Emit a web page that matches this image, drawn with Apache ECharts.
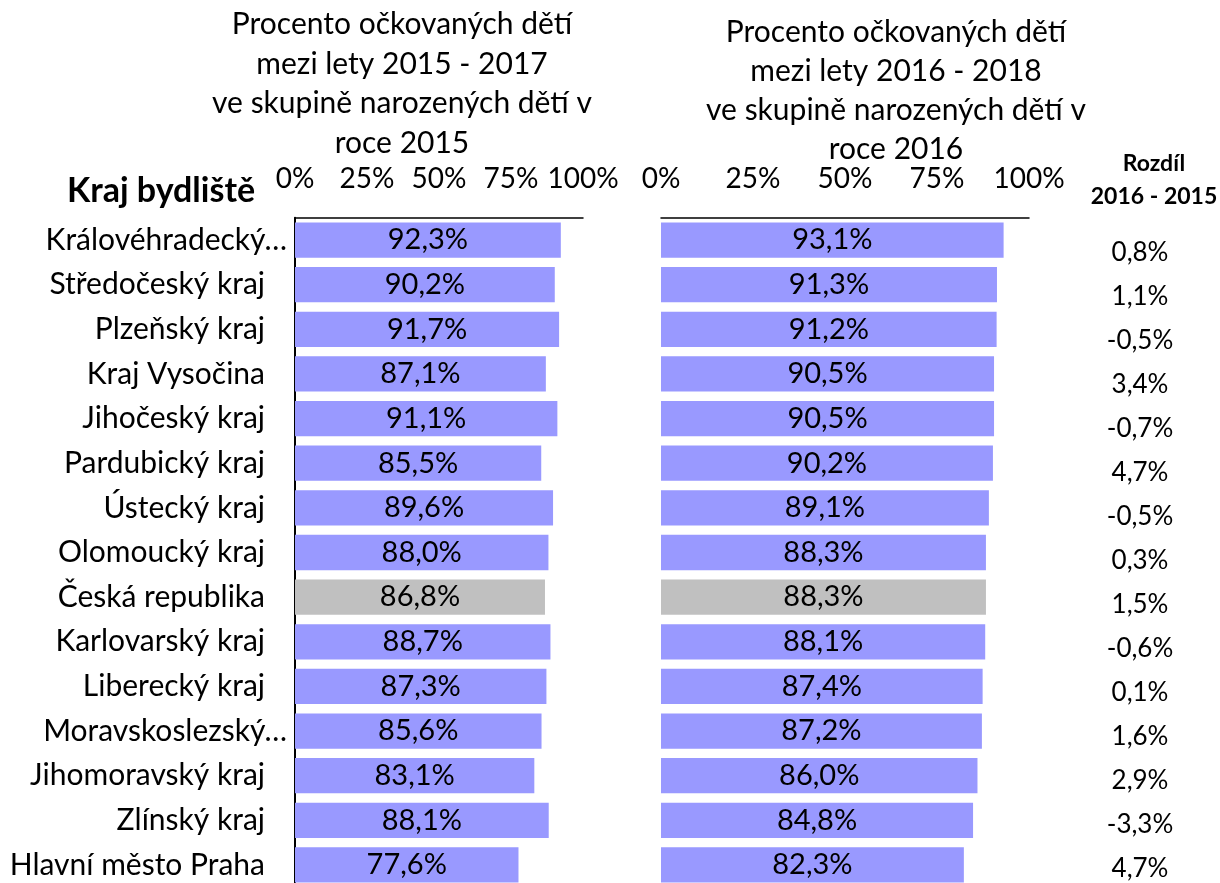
<!DOCTYPE html>
<html>
<head>
<meta charset="utf-8">
<script src="https://cdn.jsdelivr.net/npm/echarts@6/dist/echarts.min.js"></script>
<style>
html, body { margin: 0; padding: 0; background: #fff; }
#chart { width: 1220px; height: 883px; }
</style>
</head>
<body>
<div id="chart"></div>
<script>
// kraje v poradi jako v tabulce
const regions = [
	'Královéhradecký…', 'Středočeský kraj', 'Plzeňský kraj', 'Kraj Vysočina',
	'Jihočeský kraj', 'Pardubický kraj', 'Ústecký kraj', 'Olomoucký kraj',
	'Česká republika', 'Karlovarský kraj', 'Liberecký kraj', 'Moravskoslezský…',
	'Jihomoravský kraj', 'Zlínský kraj', 'Hlavní město Praha'
]
const pct2015 = [92.3, 90.2, 91.7, 87.1, 91.1, 85.5, 89.6, 88.0, 86.8, 88.7, 87.3, 85.6, 83.1, 88.1, 77.6]
const pct2016 = [93.1, 91.3, 91.2, 90.5, 90.5, 90.2, 89.1, 88.3, 88.3, 88.1, 87.4, 87.2, 86.0, 84.8, 82.3]
const diffs = [0.8, 1.1, -0.5, 3.4, -0.7, 4.7, -0.5, 0.3, 1.5, -0.6, 0.1, 1.6, 2.9, -3.3, 4.7]
const ticks = [0, 25, 50, 75, 100]
const totalName = 'Česká republika'

const FONT = 'Lato'
const fmt = (v) => v.toFixed(1).replace('.', ',') + '%'

const barData = (arr) => arr.map((v, i) => ({
	value: v,
	itemStyle: { color: regions[i] === totalName ? '#C0C0C0' : '#9999FF' },
}))

const xAxisCommon = {
	type: 'value',
	position: 'top',
	min: ticks[0],
	max: ticks[ticks.length - 1],
	interval: ticks[1] - ticks[0],
	axisLine: { show: true, lineStyle: { color: '#000', width: 1.5 } },
	axisTick: { show: false },
	splitLine: { show: false },
	axisLabel: {
		margin: 25,
		color: '#000',
		fontFamily: FONT,
		fontSize: 28,
		formatter: '{value}%',
	},
}

const barSeries = (idx, arr) => ({
	type: 'bar',
	xAxisIndex: idx,
	yAxisIndex: idx,
	barCategoryGap: '21%',
	data: barData(arr),
	label: {
		show: true,
		position: 'inside',
		color: '#000',
		fontFamily: FONT,
		fontSize: 29,
		formatter: (p) => fmt(p.value),
	},
})

const catText = { color: '#000', fontFamily: FONT, fontSize: 30 }

const option = {
	animation: false,
	textStyle: { fontFamily: FONT },
	title: [
		{
			text: 'Procento očkovaných dětí\nmezi lety 2015 - 2017\nve skupině narozených dětí v\nroce 2015',
			left: 397, top: 0, textAlign: 'center',
			textStyle: { fontFamily: FONT, fontSize: 30, fontWeight: 'normal', color: '#000', lineHeight: 39.5 },
		},
		{
			text: 'Procento očkovaných dětí\nmezi lety 2016 - 2018\nve skupině narozených dětí v\nroce 2016',
			left: 891, top: 8, textAlign: 'center',
			textStyle: { fontFamily: FONT, fontSize: 30, fontWeight: 'normal', color: '#000', lineHeight: 39 },
		},
		{
			text: 'Kraj bydliště',
			left: 156, top: 169, textAlign: 'center',
			textStyle: { fontFamily: FONT, fontSize: 34, fontWeight: 'bold', color: '#000' },
		},
		{
			text: 'Rozdíl\n2016 - 2015',
			left: 1149, top: 142, textAlign: 'center',
			textStyle: { fontFamily: FONT, fontSize: 23, fontWeight: 'bold', color: '#000', lineHeight: 33 },
		},
	],
	grid: [
		{ left: 295, width: 288, top: 217.7, height: 669.6, outerBoundsMode: 'none' },
		{ left: 661, width: 368, top: 217.7, height: 669.6, outerBoundsMode: 'none' },
		{ left: 1140, width: 10, top: 231, height: 660, outerBoundsMode: 'none' },
	],
	xAxis: [
		Object.assign({ gridIndex: 0 }, xAxisCommon),
		Object.assign({ gridIndex: 1 }, xAxisCommon),
		{ gridIndex: 2, type: 'value', show: false, min: 0, max: 1 },
	],
	yAxis: [
		{
			gridIndex: 0,
			type: 'category',
			inverse: true,
			data: regions,
			axisLine: { show: true, lineStyle: { color: '#000', width: 2 } },
			axisTick: { show: false },
			axisLabel: {
				margin: 8,
				color: '#000',
				fontFamily: FONT,
				fontSize: 30,
				// zkracene nazvy koncej blize ose
				formatter: (v) => (v.endsWith('…') ? '{e|' : '{n|') + v + '}',
				rich: {
					n: Object.assign({ padding: [0, 22, 0, 0] }, catText),
					e: catText,
				},
			},
		},
		{
			gridIndex: 1,
			type: 'category',
			inverse: true,
			data: regions,
			axisLine: { show: false },
			axisTick: { show: false },
			axisLabel: { show: false },
		},
		{
			gridIndex: 2,
			type: 'category',
			inverse: true,
			data: diffs.map(fmt),
			axisLine: { show: false },
			axisTick: { show: false },
			axisLabel: { margin: 0, align: 'center', color: '#000', fontFamily: FONT, fontSize: 26 },
		},
	],
	series: [
		barSeries(0, pct2015),
		barSeries(1, pct2016),
	],
}

const myChart = echarts.init(document.getElementById('chart'))
myChart.setOption(option)
</script>
</body>
</html>
